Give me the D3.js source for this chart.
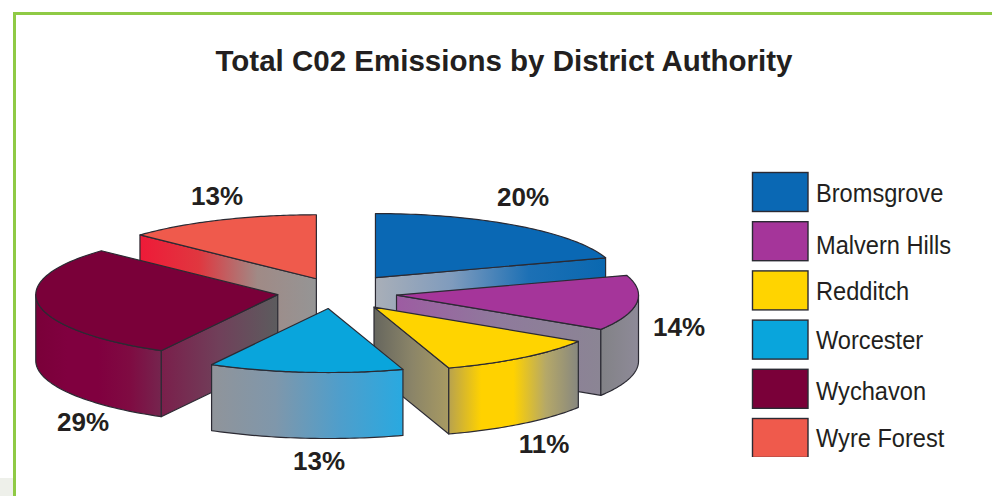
<!DOCTYPE html>
<html>
<head>
<meta charset="utf-8">
<title>Total C02 Emissions by District Authority</title>
<script src="https://cdn.jsdelivr.net/npm/d3@7"></script>
<style>
  html, body { margin: 0; padding: 0; background: #fff; }
  svg { display: block; }
  text { font-family: "Liberation Sans", Arial, sans-serif; fill: #231f20; }
</style>
</head>
<body>
<svg id="chart" width="992" height="496"></svg>
<script>
// data
const districts = ["Bromsgrove", "Malvern Hills", "Redditch", "Worcester", "Wychavon", "Wyre Forest"];
const shares = [20, 14, 11, 13, 29, 13];
const topColors = ["#0a68b4", "#a5359a", "#ffd400", "#09a5dc", "#7a0039", "#ef5a4c"];

// gradients of the side faces, left to right
const wallStops = [
  ["#a9afb8", "#7f9bbd", "#1c70b5", "#0a68b0"],
  ["#9d5ca2", "#8f7a9c", "#8b8594"],
  ["#66665e", "#8a8468", "#a89a62"],
  null,
  ["#7a1f4b", "#70405a", "#5c5c5e"],
  ["#ee1a38", "#e0373f", "#a08a86", "#959595"]
];
const arcStops = [
  null,
  ["#828286", "#8e8a98"],
  ["#b8a24e", "#ffd200", "#ffd200", "#b5a868", "#87877f"],
  ["#90949a", "#7f97ab", "#4f9ecb", "#29a9e0"],
  ["#7a0039", "#80003f", "#80003f", "#7f0b42", "#75254e"],
  null
];

// layout
const cx = 340, cy = 293, rx = 242, ry = 64, depth = 66;
const explodeX = 62, explodeY = 16.6;
const apexNudge = [[-1, -2], [-5, 0], [-4, 1], [-6, -1], [-1, -1], [1, 1]];
const drawOrder = [5, 0, 1, 4, 2, 3];
const labelPos = [[523, 197], [679, 327], [544, 444], [319, 461], [83, 422], [217, 196]];
const legendNudge = [0, 3, 0, -1, 1, -1];

const svg = d3.select("#chart");
const defs = svg.append("defs");

// frame
svg.append("rect").attr("x", 0).attr("y", 478).attr("width", 13).attr("height", 18).attr("fill", "#eef0ea");
svg.append("path")
  .attr("d", "M14.5,496V13.5H992")
  .attr("fill", "none")
  .attr("stroke", "#8fca45")
  .attr("stroke-width", 3);

svg.append("text")
  .attr("x", 504)
  .attr("y", 71)
  .attr("text-anchor", "middle")
  .attr("font-size", 29.5)
  .attr("font-weight", "bold")
  .text("Total C02 Emissions by District Authority");

// pie layout, clockwise from twelve o'clock
const slices = d3.pie().sort(null).startAngle(0).endAngle(2 * Math.PI)(shares);

function gradient(id, stops) {
  const g = defs.append("linearGradient").attr("id", id);
  const offset = d3.scaleLinear().domain([0, stops.length - 1]).range([0, 1]);
  stops.forEach((c, i) => g.append("stop").attr("offset", offset(i)).attr("stop-color", c));
  return "url(#" + id + ")";
}

function project(apex, angle, r) {
  return [apex[0] + rx * r * Math.sin(angle), apex[1] - ry * r * Math.cos(angle)];
}

const line = d3.line();
const pieG = svg.append("g")
  .attr("stroke", "#2b2a33")
  .attr("stroke-width", 1.2)
  .attr("stroke-linejoin", "round");

drawOrder.forEach(i => {
  const s = slices[i];
  const mid = (s.startAngle + s.endAngle) / 2;
  const apex = [cx + explodeX * Math.sin(mid) + apexNudge[i][0], cy - explodeY * Math.cos(mid) + apexNudge[i][1]];
  const g = pieG.append("g");

  // radial wall facing the viewer
  let wallAngle = null;
  if (Math.sin(s.endAngle) > 0.001 && s.endAngle < Math.PI) wallAngle = s.endAngle;
  if (Math.sin(s.startAngle) < -0.001) wallAngle = s.startAngle;
  if (wallAngle !== null && wallStops[i]) {
    const p = project(apex, wallAngle, 1);
    g.append("path")
      .attr("d", line([apex, p, [p[0], p[1] + depth], [apex[0], apex[1] + depth]]) + "Z")
      .attr("fill", gradient("wall" + i, wallStops[i]));
  }

  // outer rim, only the part between 3 and 9 o'clock shows
  const a0 = Math.max(s.startAngle, Math.PI / 2);
  const a1 = Math.min(s.endAngle, 3 * Math.PI / 2);
  if (a1 > a0 && arcStops[i]) {
    const steps = d3.range(0, 41).map(k => a0 + (a1 - a0) * k / 40);
    const upper = steps.map(a => project(apex, a, 1));
    const lower = upper.map(p => [p[0], p[1] + depth]).reverse();
    g.append("path")
      .attr("d", line(upper.concat(lower)) + "Z")
      .attr("fill", gradient("rim" + i, arcStops[i]));
  }

  // top face
  const n = 60;
  const rim = d3.range(0, n + 1).map(k => project(apex, s.startAngle + (s.endAngle - s.startAngle) * k / n, 1));
  g.append("path")
    .attr("d", line([apex].concat(rim)) + "Z")
    .attr("fill", topColors[i]);
});

// percentage labels
svg.append("g")
  .selectAll("text")
  .data(shares)
  .join("text")
  .attr("x", (d, i) => labelPos[i][0])
  .attr("y", (d, i) => labelPos[i][1] + 9)
  .attr("text-anchor", "middle")
  .attr("font-size", 26)
  .attr("font-weight", "bold")
  .text(d => d + "%");

// legend, the last swatch is cut off at the bottom in the source
defs.append("clipPath").attr("id", "legendClip")
  .append("rect").attr("x", 740).attr("y", 160).attr("width", 252).attr("height", 297);

const legendY = d3.scalePoint().domain(districts).range([172, 418]);
const legend = svg.append("g").attr("clip-path", "url(#legendClip)");

legend.selectAll("rect")
  .data(districts)
  .join("rect")
  .attr("x", 752.5)
  .attr("y", d => legendY(d) + 0.5)
  .attr("width", 55.5)
  .attr("height", 39)
  .attr("fill", (d, i) => topColors[i])
  .attr("stroke", "#2b2a33")
  .attr("stroke-width", 1.4);

// the source labels are a narrow cut, so squeeze them sideways
legend.selectAll("text")
  .data(districts)
  .join("text")
  .attr("transform", (d, i) => "translate(816," + (legendY(d) + 30 + legendNudge[i]) + ") scale(0.945,1.04)")
  .attr("font-size", 25)
  .text(d => d);
</script>
</body>
</html>
